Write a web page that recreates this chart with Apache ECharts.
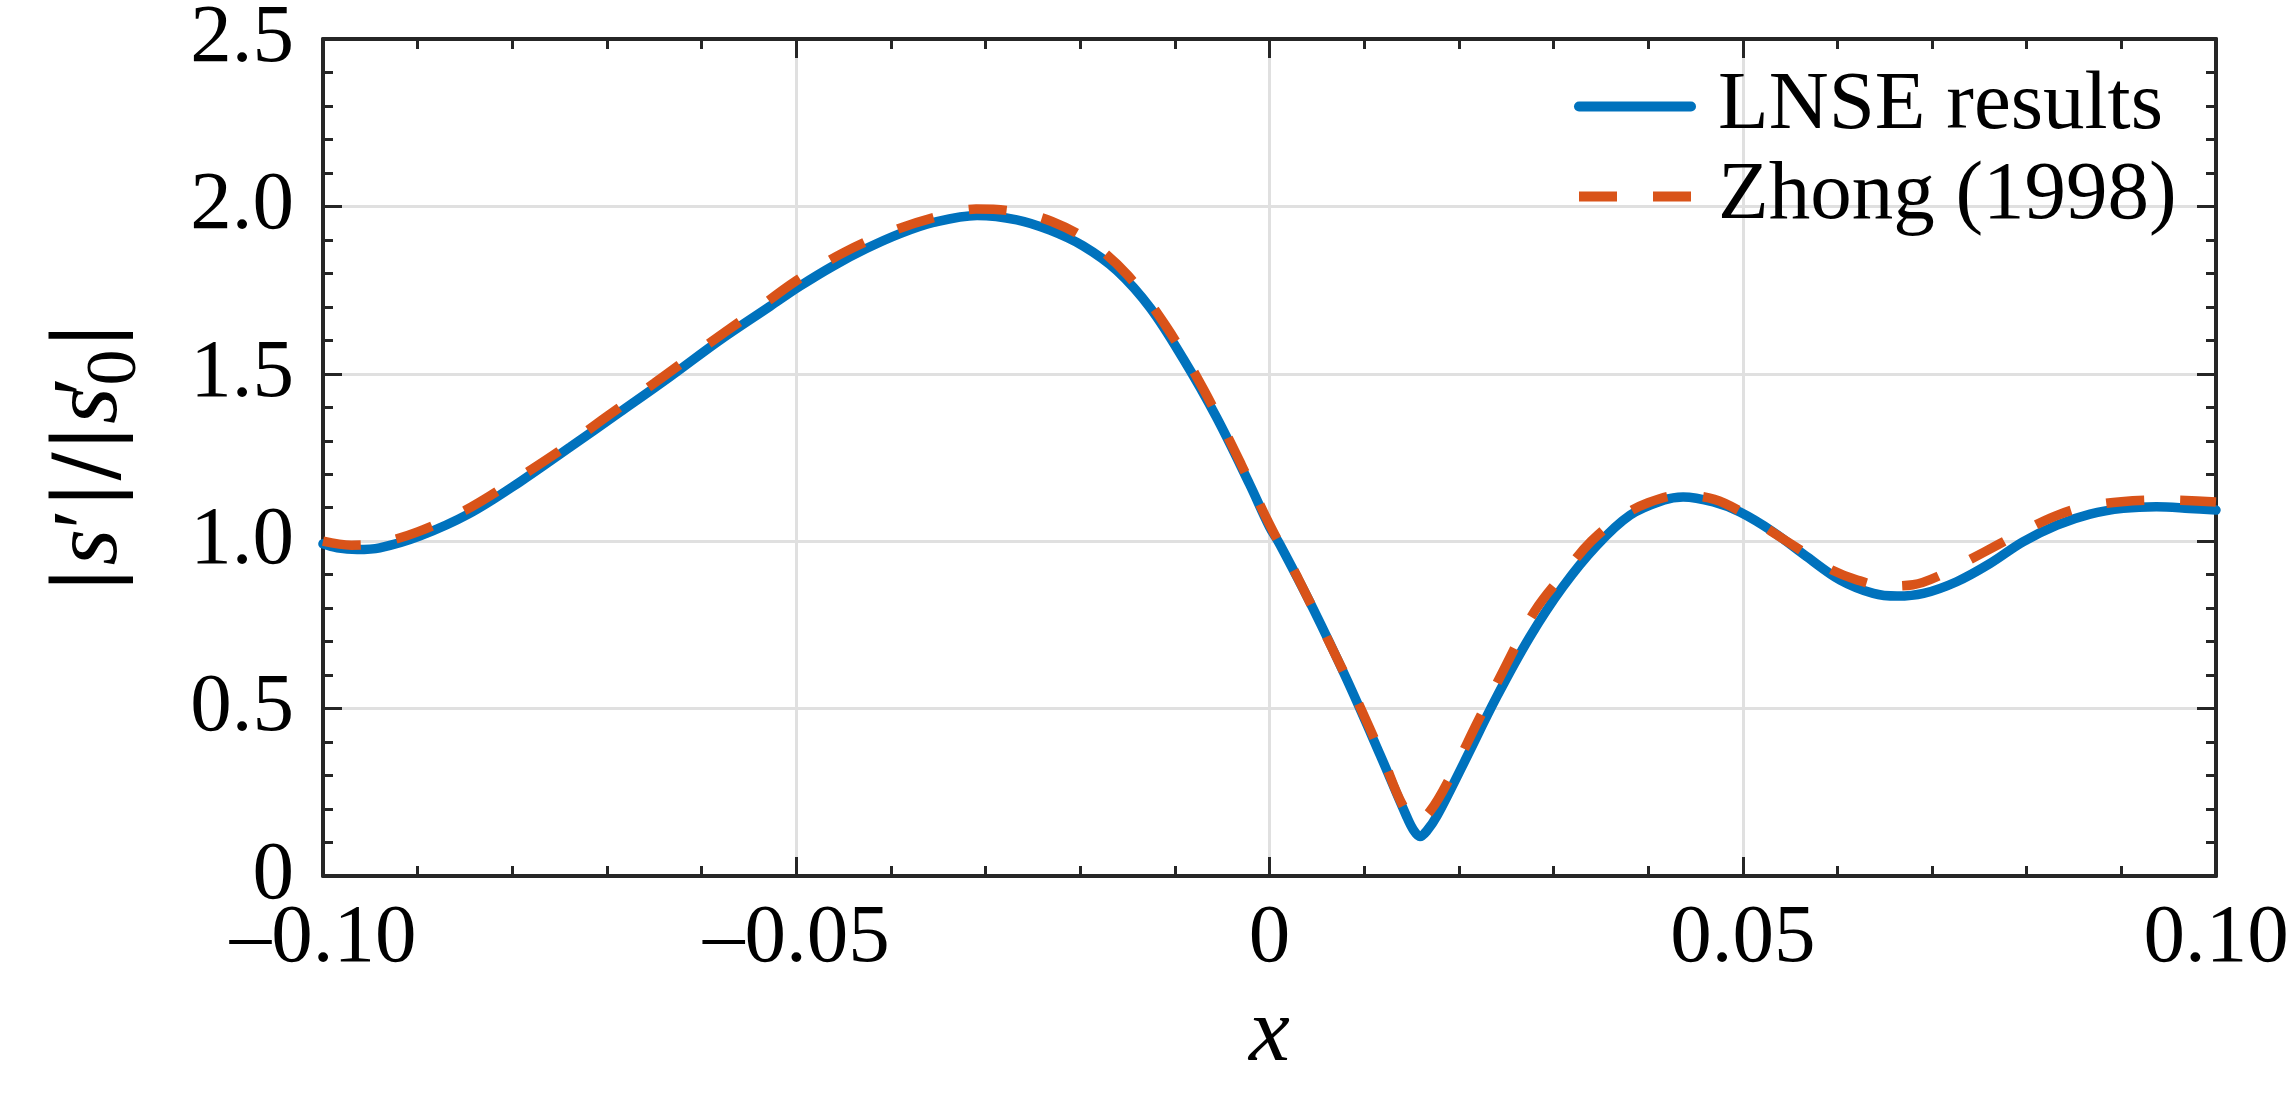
<!DOCTYPE html>
<html>
<head>
<meta charset="utf-8">
<script src="https://cdn.jsdelivr.net/npm/echarts@6/dist/echarts.min.js"></script>
<style>
html,body{margin:0;padding:0;background:#fff;}
#c{width:2289px;height:1096px;}
</style>
</head>
<body>
<div id="c"></div>
<script>
// ---- data ----
const seriesNames = ['LNSE results', 'Zhong (1998)'];
const xTicks = [-0.10, -0.05, 0, 0.05, 0.10];
const yTicks = [0, 0.5, 1.0, 1.5, 2.0, 2.5];

const lnseX = [-0.1, -0.0985, -0.0964, -0.094, -0.0898, -0.0845, -0.0792, -0.0739, -0.0686, -0.0634,
  -0.0581, -0.0528, -0.0496, -0.0461, -0.0426, -0.0391, -0.0355, -0.0309, -0.0267, -0.0232,
  -0.0197, -0.0161, -0.0126, -0.0091, -0.0056, -0.0021, 0.0, 0.0011, 0.0046, 0.0082,
  0.0117, 0.0145, 0.0152, 0.0159, 0.0166, 0.0177, 0.0205, 0.024, 0.0275, 0.031,
  0.0346, 0.0381, 0.0416, 0.0437, 0.0469, 0.0497, 0.0532, 0.0568, 0.0603, 0.0638,
  0.0663, 0.0691, 0.0726, 0.0761, 0.0796, 0.0832, 0.0867, 0.0902, 0.0937, 0.0972, 0.1];
const lnseY = [0.992, 0.980, 0.975, 0.980, 1.015, 1.083, 1.177, 1.281, 1.386, 1.490,
  1.600, 1.701, 1.762, 1.822, 1.874, 1.918, 1.952, 1.973, 1.960, 1.929,
  1.882, 1.808, 1.697, 1.544, 1.370, 1.170, 1.043, 0.990, 0.799, 0.585,
  0.361, 0.177, 0.138, 0.118, 0.134, 0.180, 0.336, 0.535, 0.714, 0.864,
  0.988, 1.078, 1.122, 1.132, 1.117, 1.087, 1.028, 0.953, 0.884, 0.844,
  0.836, 0.844, 0.879, 0.933, 0.998, 1.048, 1.081, 1.098, 1.103, 1.098, 1.093];

const zhongX = [-0.1, -0.097, -0.094, -0.09, -0.085, -0.08, -0.075, -0.07, -0.065, -0.06,
  -0.055, -0.05, -0.045, -0.04, -0.035, -0.031, -0.027, -0.023, -0.019, -0.015,
  -0.011, -0.007, -0.003, 0.0, 0.003, 0.006, 0.009, 0.012, 0.014, 0.0155,
  0.017, 0.019, 0.022, 0.025, 0.028, 0.031, 0.034, 0.037, 0.040, 0.0435,
  0.047, 0.050, 0.053, 0.056, 0.059, 0.062, 0.065, 0.068, 0.071, 0.074,
  0.077, 0.080, 0.083, 0.086, 0.090, 0.095, 0.1];
const zhongY = [1.000, 0.988, 0.995, 1.028, 1.092, 1.178, 1.270, 1.373, 1.472, 1.575,
  1.675, 1.778, 1.862, 1.925, 1.970, 1.992, 1.985, 1.955, 1.895, 1.795,
  1.645, 1.455, 1.230, 1.050, 0.890, 0.716, 0.540, 0.350, 0.215, 0.162,
  0.195, 0.290, 0.461, 0.630, 0.790, 0.900, 1.000, 1.070, 1.115, 1.138,
  1.125, 1.085, 1.030, 0.975, 0.920, 0.885, 0.866, 0.870, 0.900, 0.945,
  0.990, 1.035, 1.075, 1.102, 1.118, 1.123, 1.117];

// ---- chart ----
const FONT = 'Liberation Serif';
const AX = '#262626';
const pairs = (xs, ys) => xs.map((x, i) => [x, ys[i]]);
const fmtX = v => Math.abs(v) < 1e-9 ? '0' : (v < 0 ? '\u2013' : '') + Math.abs(v).toFixed(2);
const fmtY = v => Math.abs(v) < 1e-9 ? '0' : v.toFixed(1);

const common = {
  axisLine: { show: true, onZero: false, lineStyle: { color: AX, width: 4 } },
  axisTick: { show: true, inside: true, length: 19, lineStyle: { color: AX, width: 3 } },
  minorTick: { show: true, splitNumber: 5, length: 10, lineStyle: { color: AX, width: 3 } }
};

const chart = echarts.init(document.getElementById('c'), null, { renderer: 'canvas' });
chart.setOption({
  backgroundColor: '#fff',
  animation: false,
  grid: { left: 323, right: 73, top: 39, bottom: 220, containLabel: false, outerBoundsMode: 'none' },
  legend: {
    data: seriesNames,
    orient: 'vertical',
    left: 1574,
    top: 65,
    padding: 0,
    itemWidth: 112,
    itemHeight: 14,
    itemGap: 7,
    itemStyle: { opacity: 0 },
    lineStyle: { width: 10 },
    textStyle: { fontFamily: FONT, fontSize: 83, color: '#000', lineHeight: 83, padding: [0, 0, 0, 22] }
  },
  xAxis: [
    Object.assign({
      type: 'value', position: 'bottom', min: xTicks[0], max: xTicks[xTicks.length - 1], interval: 0.05,
      name: 'x', nameLocation: 'middle', nameGap: 160,
      nameTextStyle: { fontFamily: FONT, fontSize: 92, fontStyle: 'italic', color: '#000', verticalAlign: 'middle', lineHeight: 92 },
      axisLabel: { formatter: fmtX, fontFamily: FONT, fontSize: 83, color: '#000', margin: 22 },
      splitLine: { show: true, lineStyle: { color: '#e0e0e0', width: 3 } }
    }, common),
    Object.assign({
      type: 'value', position: 'top', min: xTicks[0], max: xTicks[xTicks.length - 1], interval: 0.05,
      axisLabel: { show: false }, splitLine: { show: false }
    }, common)
  ],
  yAxis: [
    Object.assign({
      type: 'value', position: 'left', min: yTicks[0], max: yTicks[yTicks.length - 1], interval: 0.5,
      name: '{b||}{i|s}{p|\u2032}{b||}{b|/}{b||}{i|s}{p2|\u2032}{sub|0}{b||}',
      nameLocation: 'middle', nameGap: 171, nameRotate: 90,
      nameTextStyle: {
        fontFamily: FONT, fontSize: 92, color: '#000',
        rich: {
          b: { fontFamily: 'DejaVu Serif', fontSize: 84, color: '#000' },
          i: { fontFamily: FONT, fontSize: 94, fontStyle: 'italic', color: '#000' },
          p: { fontFamily: FONT, fontSize: 92, color: '#000' },
          p2: { fontFamily: FONT, fontSize: 92, color: '#000', width: 2 },
          sub: { fontFamily: FONT, fontSize: 72, color: '#000', padding: [50, 0, 0, 0] }
        }
      },
      axisLabel: { formatter: fmtY, fontFamily: FONT, fontSize: 83, color: '#000', margin: 29 },
      splitLine: { show: true, lineStyle: { color: '#e0e0e0', width: 3 } }
    }, common),
    Object.assign({
      type: 'value', position: 'right', min: yTicks[0], max: yTicks[yTicks.length - 1], interval: 0.5,
      axisLabel: { show: false }, splitLine: { show: false }
    }, common)
  ],
  series: [
    {
      name: seriesNames[0], type: 'line', xAxisIndex: 0, yAxisIndex: 0,
      data: pairs(lnseX, lnseY), showSymbol: false, symbol: 'none',
      smooth: 0.35,
      lineStyle: { color: '#0072BD', width: 9.5, cap: 'round' },
      itemStyle: { color: '#0072BD' }, z: 3
    },
    {
      name: seriesNames[1], type: 'line', xAxisIndex: 0, yAxisIndex: 0,
      data: pairs(zhongX, zhongY), showSymbol: false, symbol: 'none',
      smooth: 0.35,
      lineStyle: { color: '#D95319', width: 9.5, type: [38, 36] },
      itemStyle: { color: '#D95319' }, z: 4
    }
  ]
});
</script>
</body>
</html>
